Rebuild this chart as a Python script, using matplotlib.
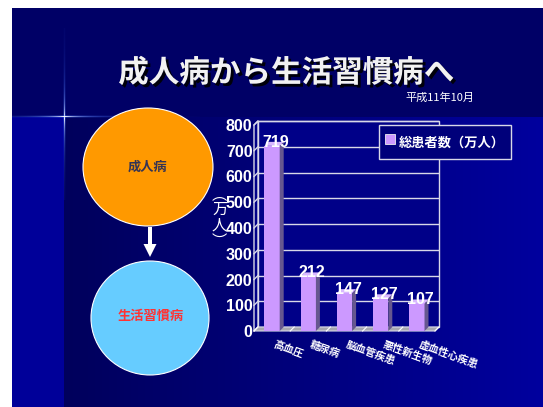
import numpy as np
import matplotlib
matplotlib.use('Agg')
import matplotlib.pyplot as plt
import matplotlib.patheffects as pe
from matplotlib import patches, transforms
from matplotlib.lines import Line2D
from matplotlib.patches import Polygon

plt.rcParams['font.family'] = ['Noto Sans CJK JP', 'DejaVu Sans']

# data: total patients by disease (10,000 persons), Oct. 1999
diseases = ['高血圧', '糖尿病', '脳血管疾患', '悪性新生物', '虚血性心疾患']
patients = [719, 212, 147, 127, 107]
y_ticks = [0, 100, 200, 300, 400, 500, 600, 700, 800]
series_name = '総患者数（万人）'

W, H = 543, 407
fig = plt.figure(figsize=(W / 100, H / 100), dpi=100)

# slide background in pixel coordinates
bg = fig.add_axes([0, 0, 1, 1])
bg.set_xlim(0, W)
bg.set_ylim(H, 0)
bg.axis('off')

band_y, band_x = 117, 64
img = np.ones((H, W, 3))
img[8:band_y, 12:] = (0, 0, 0.40)
img[band_y:, 12:] = 0
img[band_y:, 12:, 2] = np.interp(np.arange(W), [band_x, W], [0.36, 0.62])[12:]
img[band_y:, 12:band_x, 2] = 0.60

# light flare where the two bands meet
def glow(px, a):
    base = img[px]
    col = np.array([0.25 + 0.75 * a ** 2, 0.45 + 0.55 * a ** 2, 1.0])
    img[px] = base * (1 - a) + col * a

for y in range(28, 200):
    a = np.exp(-abs(y - band_y) / 28.0)
    glow((y, band_x), a)
    glow((y, band_x - 1), 0.3 * a)
    glow((y, band_x + 1), 0.3 * a)
for x in range(12, 200):
    a = np.exp(-abs(x - band_x) / 32.0)
    glow((band_y - 1, x), a)
    glow((band_y - 2, x), 0.3 * a)
    glow((band_y, x), 0.3 * a)

bg.imshow(img, extent=(0, W, H, 0), aspect='auto', interpolation='bilinear')

bg.text(286, 73, '成人病から生活習慣病へ', ha='center', va='center',
        fontsize=22, fontweight='bold', color='#F2F2F2',
        path_effects=[pe.withSimplePatchShadow(offset=(2, -2),
                                               shadow_rgbFace='black',
                                               alpha=0.9)])
bg.text(440, 98, '平成11年10月', ha='center', va='center',
        fontsize=8, color='white')

# left diagram
bg.add_patch(patches.Ellipse((148, 167), 130, 118, fc='#FF9900',
                             ec='white', lw=0.8))
bg.add_patch(patches.Ellipse((150, 318), 118, 114, fc='#66CCFF',
                             ec='white', lw=0.8))
bg.add_patch(patches.FancyArrow(150, 227, 0, 30, width=4, head_width=13,
                                head_length=13, length_includes_head=True,
                                fc='white', ec='none'))
bg.text(148, 167, '成人病', ha='center', va='center', fontsize=9.5,
        fontweight='bold', color='#333355')
bg.text(151, 316, '生活習慣病', ha='center', va='center', fontsize=9.5,
        fontweight='bold', color='#FF3333')

# pseudo-3D bar chart
ax = fig.add_axes([254 / W, 1 - 331 / H, 181 / W, 206 / H])
ax.set_xlim(-0.5, 4.5)
ax.set_ylim(0, 800)
ax.patch.set_visible(False)
for s in ax.spines.values():
    s.set_visible(False)

depth = 4 / 100
back = ax.transData + transforms.ScaledTranslation(depth, depth,
                                                   fig.dpi_scale_trans)
ident = transforms.IdentityTransform()
edge = '#D8D8E8'


def face(front_pts, back_pts, **kw):
    pts = np.vstack([ax.transData.transform(front_pts),
                     back.transform(back_pts)])
    p = Polygon(pts, closed=True, transform=ident, clip_on=False, **kw)
    ax.add_patch(p)
    return p


# walls and floor
ax.add_patch(patches.Rectangle((-0.5, 0), 5, 800, transform=back,
                               fc='#000088', ec=edge, lw=1, clip_on=False,
                               zorder=0))
face([(-0.5, 0), (-0.5, 800)], [(-0.5, 800), (-0.5, 0)],
     fc='#000088', ec=edge, lw=1, zorder=0.5)
face([(-0.5, 0), (4.5, 0)], [(4.5, 0), (-0.5, 0)],
     fc='#A8A8B0', ec=edge, lw=0.8, zorder=1)
ax.hlines(y_ticks[1:], -0.5, 4.5, transform=back, colors=edge, lw=1,
          clip_on=False, zorder=0.6)
for t in y_ticks:
    p0 = ax.transData.transform((-0.5, t))
    p1 = back.transform((-0.5, t))
    ax.plot([p0[0], p1[0]], [p0[1], p1[1]], transform=ident, color=edge,
            lw=1, clip_on=False, zorder=0.7)
for b in np.arange(-0.5, 4.6, 1.0):
    p0 = ax.transData.transform((b, 0))
    p1 = back.transform((b, 0))
    ax.plot([p0[0], p1[0]], [p0[1], p1[1]], transform=ident, color='white',
            lw=0.8, clip_on=False, zorder=1.1)

bar_w = 0.42
x = np.arange(len(diseases))
ax.bar(x, patients, width=bar_w, color='#CC99FF', zorder=3, clip_on=False)
for xi, v in zip(x, patients):
    xl, xr = xi - bar_w / 2, xi + bar_w / 2
    face([(xr, 0), (xr, v)], [(xr, v), (xr, 0)], fc='#66578F', ec='none',
         zorder=3)
    face([(xl, v), (xr, v)], [(xr, v), (xl, v)], fc='#D9B8FF', ec='none',
         zorder=3)

lbl_shift = ax.transData + transforms.ScaledTranslation(0.035, 0.035,
                                                        fig.dpi_scale_trans)
for xi, v in zip(x, patients):
    ax.text(xi, v, str(v), transform=lbl_shift, ha='center', va='center',
            color='white', fontsize=11.5, fontweight='bold',
            family=['Liberation Sans'], zorder=5, clip_on=False)

ax.set_yticks(y_ticks)
ax.set_yticklabels([str(t) for t in y_ticks], family=['Liberation Sans'],
                   fontweight='bold', fontsize=11.5, color='white')
ax.tick_params(axis='y', length=0, pad=1)

ax.set_xticks(x)
ax.set_xticklabels(diseases, rotation=-20, ha='left', va='top',
                   rotation_mode='anchor', fontsize=7.5, fontweight='bold',
                   color='white')
ax.tick_params(axis='x', length=0, pad=6)
for lbl in ax.get_xticklabels():
    lbl.set_transform(lbl.get_transform() +
                      transforms.ScaledTranslation(0.04, 0,
                                                   fig.dpi_scale_trans))

ax.set_ylabel('︵\n万\n人\n︶', rotation=0, color='white', fontsize=11,
              linespacing=0.9, va='center', ha='center')
ax.yaxis.set_label_coords(-0.19, 0.55)

handle = Line2D([], [], ls='none', marker='s', markersize=7,
                markerfacecolor='#CC99FF', markeredgecolor='#EEEEEE',
                markeredgewidth=0.6)
leg = ax.legend([handle], [series_name], loc='upper left',
                bbox_to_anchor=(379 / W, 1 - 125 / H),
                bbox_transform=fig.transFigure, frameon=True, fancybox=False,
                facecolor='#00007A', edgecolor=edge, framealpha=1,
                borderpad=0.5, handlelength=0.7, handleheight=2.1,
                handletextpad=0.3, borderaxespad=0,
                prop=dict(weight='bold', size=9.5))
leg.get_frame().set_linewidth(1)
for t in leg.get_texts():
    t.set_color('white')

fig.savefig('out.png', dpi=100)
